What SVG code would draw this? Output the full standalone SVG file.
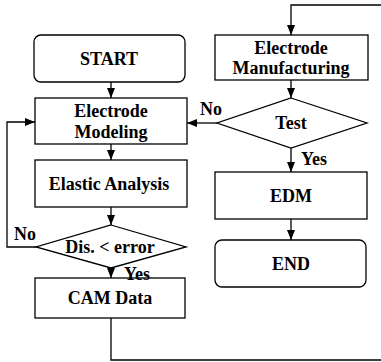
<svg xmlns="http://www.w3.org/2000/svg" width="381" height="362" viewBox="0 0 381 362">
<style>
.box{fill:#fff;stroke:#000;stroke-width:1.3}
.t{font-family:"Liberation Serif","DejaVu Serif","Times New Roman",serif;font-size:18px;font-weight:bold;fill:#000;text-anchor:middle}
.l{font-family:"Liberation Serif","DejaVu Serif","Times New Roman",serif;font-size:18px;font-weight:bold;fill:#000}
.c{fill:none;stroke:#000;stroke-width:1.3}
</style>
<defs>
<marker id="ah" markerUnits="userSpaceOnUse" markerWidth="10" markerHeight="10" viewBox="0 0 10 10" refX="10" refY="5" orient="auto">
<path d="M0,1 L10,5 L0,9 Z" fill="#000"/>
</marker>
</defs>
<rect width="381" height="362" fill="#fff"/>
<g id="connectors">
<path class="c" d="M111,82 V98" marker-end="url(#ah)"/>
<path class="c" d="M111,144 V160" marker-end="url(#ah)"/>
<path class="c" d="M111,207 V225" marker-end="url(#ah)"/>
<path class="c" d="M111,268 V278" marker-end="url(#ah)"/>
<path class="c" d="M111,318 V360 H386 V5 H291 V35" marker-end="url(#ah)"/>
<path class="c" d="M36,247 H7 V122 H35" marker-end="url(#ah)"/>
<path class="c" d="M291,80 V98" marker-end="url(#ah)"/>
<path class="c" d="M217,123 H187" marker-end="url(#ah)"/>
<path class="c" d="M291,148 V172" marker-end="url(#ah)"/>
<path class="c" d="M291,219 V240" marker-end="url(#ah)"/>
</g>
<g id="start">
<rect class="box" x="34" y="35" width="151" height="47" rx="7"/>
<text class="t" x="109" y="65">START</text>
</g>
<g id="modeling">
<rect class="box" x="35" y="98" width="152" height="46"/>
<text class="t" x="111" y="117">Electrode</text>
<text class="t" x="111" y="138">Modeling</text>
</g>
<g id="elastic">
<rect class="box" x="35" y="160" width="152" height="47"/>
<text class="t" x="109" y="190">Elastic Analysis</text>
</g>
<g id="dis">
<polygon class="box" points="111,225 186,247 111,268 36,247"/>
<text class="t" x="110" y="253">Dis. &lt; error</text>
</g>
<g id="cam">
<rect class="box" x="35" y="278" width="150" height="40"/>
<text class="t" x="110" y="304">CAM Data</text>
</g>
<g id="manufacturing">
<rect class="box" x="215" y="35" width="153" height="45"/>
<text class="t" x="291" y="54">Electrode</text>
<text class="t" x="291" y="74">Manufacturing</text>
</g>
<g id="test">
<polygon class="box" points="291,98 367,123 291,148 217,123"/>
<text class="t" x="291" y="129">Test</text>
</g>
<g id="edm">
<rect class="box" x="215" y="172" width="152" height="47"/>
<text class="t" x="291" y="202">EDM</text>
</g>
<g id="end">
<rect class="box" x="215" y="240" width="151" height="47" rx="7"/>
<text class="t" x="291" y="270">END</text>
</g>
<g id="labels">
<text class="l" x="14" y="240">No</text>
<text class="l" x="124" y="280">Yes</text>
<text class="l" x="200" y="115">No</text>
<text class="l" x="301" y="165">Yes</text>
</g>
</svg>
